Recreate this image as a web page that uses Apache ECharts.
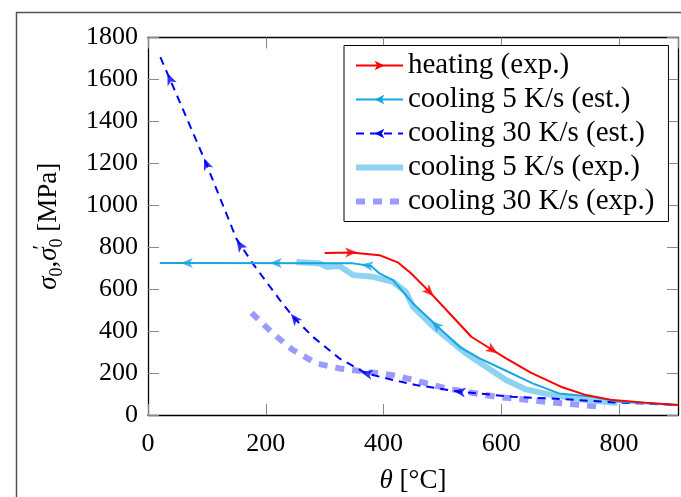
<!DOCTYPE html>
<html>
<head>
<meta charset="utf-8">
<script src="https://cdn.jsdelivr.net/npm/echarts@6/dist/echarts.min.js"></script>
<style>
  html, body { margin: 0; padding: 0; background: #fff; }
  #chart { width: 681px; height: 497px; }
</style>
</head>
<body>
<div id="chart"></div>
<script>
// data: [temperature °C, stress MPa]
const heating = [[300, 773], [345, 775], [393, 762], [424, 728], [447, 675], [478, 587], [523, 452], [549, 373], [585, 310], [608, 270], [650, 202], [701, 135], [744, 95], [789, 71], [845, 59], [900, 48]];
const cooling5Est = [[20, 725], [348, 723], [379, 710], [393, 675], [416, 643], [450, 532], [489, 429], [529, 325], [563, 270], [608, 211], [653, 151], [698, 103], [755, 87], [800, 63], [900, 48]];
const cooling30Est = [[21, 1706], [37, 1603], [99, 1198], [150, 841], [178, 722], [224, 548], [249, 460], [280, 373], [325, 270], [371, 198], [416, 167], [455, 143], [529, 111], [619, 87], [710, 75], [800, 59], [900, 48]];
const cooling5Exp = [[252, 730], [292, 722], [303, 706], [325, 710], [348, 667], [382, 659], [416, 635], [438, 587], [450, 516], [489, 410], [540, 294], [574, 230], [608, 167], [642, 122], [687, 95], [744, 71], [789, 59], [797, 58]];
const cooling30Exp = [[176, 487], [212, 389], [246, 310], [286, 246], [325, 222], [371, 206], [416, 190], [452, 167], [506, 127], [591, 87], [676, 63], [775, 38]];

// where the direction arrows sit on the lines
const heatingArrows = [[345, 775], [478, 587], [585, 310]];
const cooling5Arrows = [[66, 725], [217, 725], [372, 713], [489, 429]];
const cooling30Arrows = [[37, 1603], [99, 1198], [156, 810], [249, 460], [371, 198], [529, 111]];

const names = ['heating (exp.)', 'cooling 5 K/s (est.)', 'cooling 30 K/s (est.)', 'cooling 5 K/s (exp.)', 'cooling 30 K/s (exp.)'];

const FONT = 'Liberation Serif';
const ARROW = 'path://M0,0 L5,12 L0,9 L-5,12 Z';
const RED = '#ff0000', CYAN = '#17a6e2', BLUE = '#0000ff', LIGHTCYAN = '#8ed4f2', LAVENDER = '#9b9bff';

let myChart = echarts.init(document.getElementById('chart'), null, { renderer: 'canvas' });

const axisCommon = {
  type: 'value',
  axisLine: { show: true, onZero: false, lineStyle: { color: '#000', width: 1.3 } },
  axisTick: { show: true, inside: true, length: 11, lineStyle: { color: '#888', width: 1 } },
  splitLine: { show: false },
};

const lineSeries = (name, data, color, width, type, withArrow, rot) => ({
  name: name,
  type: 'line',
  data: data,
  showSymbol: false,
  symbol: withArrow ? ARROW : 'none',
  symbolRotate: rot,
  symbolSize: [10, 12],
  smooth: false,
  color: color,
  lineStyle: { color: color, width: width, type: type },
  itemStyle: { color: color },
  z: 2,
  silent: true,
});

let option = {
  animation: false,
  backgroundColor: '#fff',
  textStyle: { fontFamily: FONT },
  graphic: [{
    type: 'rect',
    left: 14, top: 10,
    shape: { width: 1000, height: 1000 },
    style: { fill: 'none', stroke: '#555', lineWidth: 1.5 },
    z: -1,
  }],
  grid: { left: 148, top: 37.5, right: 3, bottom: 82, outerBoundsMode: 'none' },
  legend: {
    orient: 'vertical',
    left: 344, top: 45.5,
    padding: [5, 14, 5, 9],
    itemGap: 4,
    itemWidth: 47,
    itemHeight: 12,
    backgroundColor: '#fff',
    borderColor: '#000',
    borderWidth: 1,
    borderRadius: 0,
    textStyle: { fontFamily: FONT, fontSize: 29, color: '#000', lineHeight: 30 },
    data: [
      { name: names[0], iconRotate: -90 },
      { name: names[1], iconRotate: 90 },
      { name: names[2], iconRotate: 90 },
      { name: names[3], itemStyle: { opacity: 0 }, lineStyle: { color: LIGHTCYAN, width: 6, type: 'solid' } },
      { name: names[4], itemStyle: { opacity: 0 }, lineStyle: { color: LAVENDER, width: 6, type: [9, 8] } },
    ],
    z: 10,
  },
  xAxis: [
    Object.assign({}, axisCommon, {
      position: 'bottom', min: 0, max: 900, interval: 200,
      axisLabel: { color: '#000', fontSize: 26, fontFamily: FONT, margin: 16, showMaxLabel: false, formatter: (v) => String(v) },
      name: '{i|θ} [°C]',
      nameLocation: 'middle',
      nameGap: 52,
      nameTextStyle: {
        color: '#000', fontSize: 27, fontFamily: FONT,
        rich: { i: { fontStyle: 'italic', fontSize: 27, fontFamily: FONT, color: '#000' } },
      },
    }),
    Object.assign({}, axisCommon, {
      position: 'top', min: 0, max: 900, interval: 200,
      axisLabel: { show: false },
    }),
  ],
  yAxis: [
    Object.assign({}, axisCommon, {
      position: 'left', min: 0, max: 1800, interval: 200,
      axisLabel: { color: '#000', fontSize: 26, fontFamily: FONT, margin: 10, formatter: (v) => String(v) },
      name: '{s|σ}{b|0}{t|,}{s|σ}{p|′}{b|0}{t| [MPa]}',
      nameLocation: 'middle',
      nameGap: 82,
      nameRotate: 90,
      nameTextStyle: {
        color: '#000', fontFamily: FONT,
        rich: {
          s: { fontStyle: 'italic', fontSize: 27, fontFamily: FONT, color: '#000', lineHeight: 34 },
          t: { fontSize: 27, fontFamily: FONT, color: '#000', lineHeight: 34 },
          b: { fontSize: 18, fontFamily: FONT, color: '#000', lineHeight: 12, verticalAlign: 'bottom' },
          p: { fontSize: 20, fontFamily: FONT, color: '#000', lineHeight: 16, verticalAlign: 'top', width: 0 },
        },
      },
    }),
    Object.assign({}, axisCommon, {
      position: 'right', min: 0, max: 1800, interval: 200,
      axisLabel: { show: false },
    }),
  ],
  series: [
    lineSeries(names[4], cooling30Exp, LAVENDER, 6, [9, 8], false, 0),
    lineSeries(names[3], cooling5Exp, LIGHTCYAN, 6, 'solid', false, 0),
    lineSeries(names[2], cooling30Est, BLUE, 2, [8, 6], true, 90),
    lineSeries(names[1], cooling5Est, CYAN, 2, 'solid', true, 90),
    lineSeries(names[0], heating, RED, 2, 'solid', true, -90),
  ],
};

myChart.setOption(option);

// rotate each arrow along its line in pixel space; dir = +1 travels to larger x, -1 to smaller
const arrowSeries = (line, arrows, color, dir) => {
  const data = arrows.map((a) => {
    let best = 0, bestD = Infinity;
    for (let i = 0; i < line.length - 1; i++) {
      const mx = (line[i][0] + line[i + 1][0]) / 2;
      const lo = Math.min(line[i][0], line[i + 1][0]), hi = Math.max(line[i][0], line[i + 1][0]);
      const d = (a[0] >= lo && a[0] <= hi) ? Math.abs(a[0] - mx) * 0.001 : Math.abs(a[0] - mx) + 1000;
      if (d < bestD) { bestD = d; best = i; }
    }
    const p1 = myChart.convertToPixel({ gridIndex: 0 }, line[best]);
    const p2 = myChart.convertToPixel({ gridIndex: 0 }, line[best + 1]);
    const dx = (p2[0] - p1[0]) * dir, dy = (p2[1] - p1[1]) * dir;
    const theta = Math.atan2(-dy, dx) * 180 / Math.PI;
    return { value: a, symbolRotate: theta - 90 };
  });
  return {
    type: 'scatter',
    data: data,
    symbol: ARROW,
    symbolSize: [10, 12],
    itemStyle: { color: color },
    z: 3,
    silent: true,
  };
};

option.series = option.series.concat([
  arrowSeries(cooling30Est, cooling30Arrows, BLUE, -1),
  arrowSeries(cooling5Est, cooling5Arrows, CYAN, -1),
  arrowSeries(heating, heatingArrows, RED, 1),
]);
myChart.setOption(option, true);

window.addEventListener('resize', () => {
  myChart.resize();
});
</script>
</body>
</html>
